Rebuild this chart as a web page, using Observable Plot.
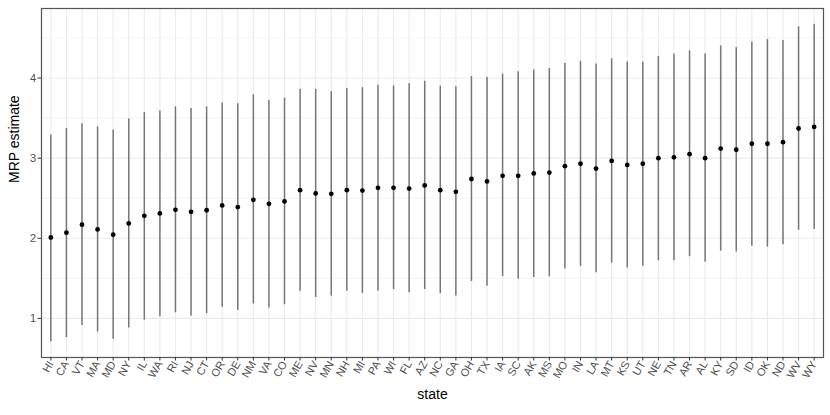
<!DOCTYPE html>
<html>
<head>
<meta charset="utf-8">
<script src="https://cdn.jsdelivr.net/npm/d3@7"></script>
<script src="https://cdn.jsdelivr.net/npm/@observablehq/plot@0.6"></script>
<style>
  html, body { margin: 0; padding: 0; background: #fff; }
  #chart svg { display: block; font-family: "Liberation Sans", Arial, sans-serif; }
</style>
</head>
<body>
<div id="chart"></div>
<script>
const states = ["HI","CA","VT","MA","MD","NY","IL","WA","RI","NJ","CT","OR","DE","NM","VA","CO","ME","NV","MN","NH","MI","PA","WI","FL","AZ","NC","GA","OH","TX","IA","SC","AK","MS","MO","IN","LA","MT","KS","UT","NE","TN","AR","AL","KY","SD","ID","OK","ND","WV","WY"];
const estimate = [2.01,2.07,2.17,2.11,2.045,2.185,2.28,2.31,2.355,2.33,2.35,2.41,2.39,2.48,2.43,2.46,2.60,2.56,2.555,2.60,2.595,2.63,2.63,2.62,2.66,2.60,2.58,2.74,2.71,2.78,2.78,2.81,2.82,2.90,2.93,2.87,2.965,2.915,2.93,3.00,3.01,3.05,3.00,3.12,3.105,3.18,3.18,3.20,3.37,3.39];
const lower = [0.71,0.76,0.91,0.83,0.74,0.88,0.98,1.02,1.07,1.03,1.06,1.14,1.10,1.18,1.13,1.17,1.34,1.26,1.28,1.34,1.31,1.34,1.36,1.32,1.36,1.31,1.28,1.46,1.40,1.52,1.49,1.51,1.52,1.62,1.65,1.57,1.69,1.63,1.65,1.72,1.72,1.77,1.70,1.84,1.83,1.90,1.89,1.92,2.10,2.11];
const upper = [3.29,3.37,3.43,3.39,3.35,3.49,3.57,3.59,3.64,3.62,3.64,3.69,3.68,3.79,3.72,3.75,3.86,3.86,3.83,3.87,3.88,3.91,3.90,3.93,3.96,3.90,3.89,4.02,4.01,4.05,4.08,4.10,4.12,4.18,4.21,4.175,4.24,4.20,4.20,4.27,4.30,4.34,4.30,4.40,4.38,4.45,4.48,4.47,4.64,4.67];
const yTicks = [1, 2, 3, 4];
const yMinor = [1.5, 2.5, 3.5, 4.5];

const data = states.map((s, i) => ({state: s, est: estimate[i], lo: lower[i], hi: upper[i]}));

const chart = Plot.plot({
  width: 830,
  height: 415,
  marginLeft: 41,
  marginRight: 7,
  marginTop: 8,
  marginBottom: 58,
  style: {fontFamily: "Liberation Sans, Arial, sans-serif", background: "#fff"},
  x: {type: "point", domain: states, padding: 0.6, round: false, label: null},
  y: {domain: [0.512, 4.868], label: null},
  marks: [
    Plot.gridY(yMinor, {stroke: "#ebebeb", strokeOpacity: 1, strokeWidth: 0.6}),
    Plot.gridY(yTicks, {stroke: "#ebebeb", strokeOpacity: 1, strokeWidth: 1.1}),
    Plot.gridX(states, {stroke: "#ebebeb", strokeOpacity: 1, strokeWidth: 1.1}),
    Plot.ruleX(data, {x: "state", y1: "lo", y2: "hi", stroke: "#777777", strokeWidth: 1.5}),
    Plot.dot(data, {x: "state", y: "est", r: 2.4, fill: "#000", stroke: "none"}),
    Plot.frame({stroke: "#555555", strokeWidth: 1.2}),
    Plot.axisY(yTicks, {tickSize: 3.5, tickPadding: 2, tickFormat: d => String(d), fontSize: 11, color: "#4d4d4d", stroke: "#333", label: null}),
    Plot.axisX(states, {tickSize: 3.5, tickPadding: 1, tickRotate: -60, fontSize: 11, color: "#4d4d4d", stroke: "#333", label: null}),
    Plot.text(["MRP estimate"], {frameAnchor: "left", dx: -27, rotate: -90, fontSize: 14, fill: "#000"}),
    Plot.text(["state"], {frameAnchor: "bottom", dy: 41, fontSize: 14, fill: "#000"})
  ]
});
document.getElementById("chart").appendChild(chart);
</script>
</body>
</html>
